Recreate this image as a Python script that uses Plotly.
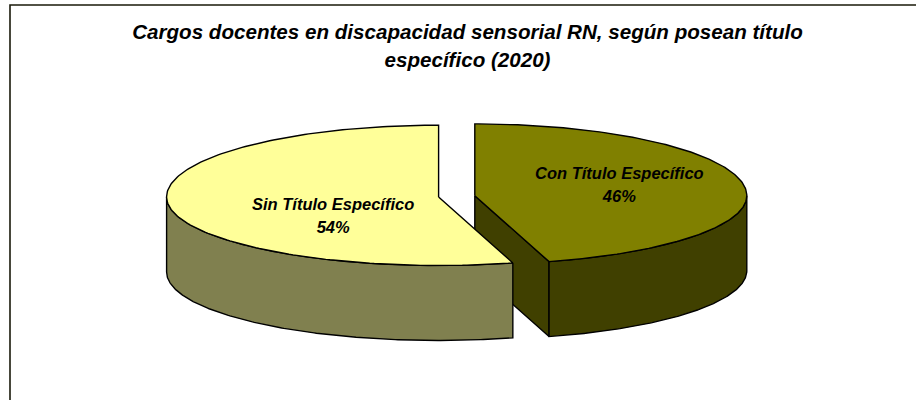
import numpy as np
import plotly.graph_objects as go

# ---- data ----
categories = ["Con Título Específico", "Sin Título Específico"]
values = [45.6, 54.4]
title_lines = ["Cargos docentes en discapacidad sensorial RN, según posean título", "específico (2020)"]

# ---- styling ----
top_colors = ["#808000", "#FFFF99"]
wall_colors = ["#404000", "#80804F"]
cut_color = "#404000"
centres = [(474.8, 195.7), (438.6, 197.0)]
rx, ry_back, ry_front, depth = 272.0, 71.8, 68.5, 75.0
label_pos = [(619, 184), (333, 215)]


def rim(cx, cy, theta, drop=0.0):
    c = np.cos(theta)
    ry = np.where(c >= 0, ry_back, ry_front)
    return cx + rx * np.sin(theta), cy - ry * c + drop


def poly(fig, xs, ys, color):
    fig.add_trace(go.Scatter(x=np.r_[xs, xs[0]], y=np.r_[ys, ys[0]], mode="lines", fill="toself",
                             fillcolor=color, line=dict(color="#000000", width=1.4),
                             hoverinfo="skip", showlegend=False))


fig = go.Figure()
edges = np.r_[0, np.cumsum(values)] / np.sum(values) * 2 * np.pi

# first slice (back right), then second so it covers the first one's cut face
for i in range(2):
    cx, cy = centres[i]
    a0, a1 = edges[i], edges[i + 1]
    arc = np.linspace(a0, a1, 200)
    if i == 0:
        # cut face running from the centre to the end of the rim
        ex, ey = rim(cx, cy, np.array([a1]))
        poly(fig, np.array([cx, ex[0], ex[0], cx]), np.array([cy, ey[0], ey[0] + depth, cy + depth]), cut_color)
    # visible outer wall: the part of the rim facing the viewer
    wall = np.linspace(max(a0, np.pi / 2), min(a1, 3 * np.pi / 2), 200)
    ux, uy = rim(cx, cy, wall)
    lx, ly = rim(cx, cy, wall, depth)
    poly(fig, np.r_[ux, lx[::-1]], np.r_[uy, ly[::-1]], wall_colors[i])
    # top face
    tx, ty = rim(cx, cy, arc)
    poly(fig, np.r_[cx, tx], np.r_[cy, ty], top_colors[i])

# frame, clipped by the plot edge on the right and bottom
fig.add_shape(type="rect", x0=10, y0=5, x1=940, y1=420, line=dict(color="#1A1A0A", width=1.6), layer="above")

for name, val, (lx, ly) in zip(categories, values, label_pos):
    fig.add_annotation(x=lx, y=ly, xref="x", yref="y", showarrow=False, align="center",
                       text=f'<b><i><span style="font-size:16.5px">{name}<br>{round(val)}%</span></i></b>',
                       font=dict(family="Liberation Sans, Arial, sans-serif", size=17.7, color="#000000"))

fig.update_layout(
    width=916, height=400, margin=dict(l=0, r=0, t=0, b=0),
    paper_bgcolor="#FFFFFF", plot_bgcolor="#FFFFFF",
    title=dict(text='<b><i><span style="font-size:20.6px">' + "<br>".join(title_lines) + "</span></i></b>",
               x=467.5 / 916, xanchor="center", y=1 - 39 / 400, yanchor="middle",
               font=dict(family="Liberation Sans, Arial, sans-serif", size=21.5, color="#000000")),
    xaxis=dict(range=[0, 916], visible=False, fixedrange=True),
    yaxis=dict(range=[400, 0], visible=False, fixedrange=True),
)
fig.write_html("out.html", config={"displayModeBar": False},
               post_script="document.body.style.margin='0';document.body.style.overflow='hidden';")
